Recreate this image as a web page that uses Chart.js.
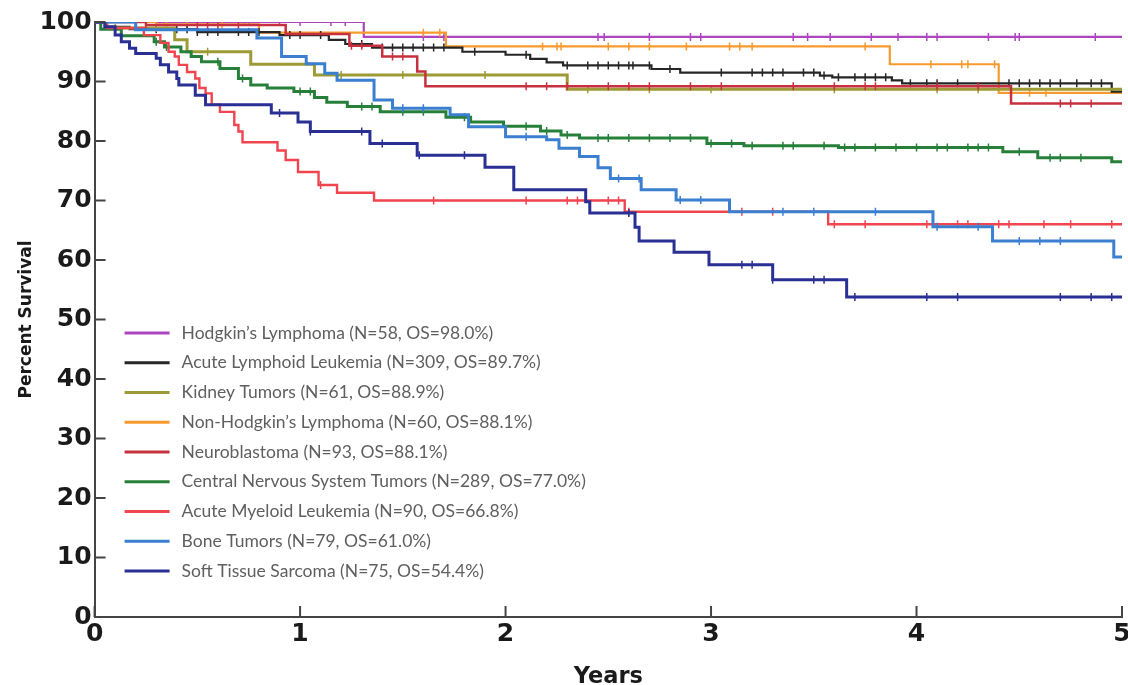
<!DOCTYPE html>
<html>
<head>
<meta charset="utf-8">
<title>Survival by diagnosis</title>
<script src="https://cdn.jsdelivr.net/npm/chart.js@4.4.1/dist/chart.umd.min.js"></script>
<style>
  html, body { margin: 0; padding: 0; background: #fff; }
  #wrap { position: relative; width: 1128px; height: 685px; }
</style>
</head>
<body>
<div id="wrap"><canvas id="kmChart"></canvas></div>
<script>
/* Kaplan-Meier curves, 5 year overall survival by diagnosis
------------------------------------------------------------ */

// series: event times (years) and survival (%) after each step
var hodgkinT = [0, 1.31, 5];
var hodgkinS = [100, 97.5, 97.5];
var allT = [0, 0.05, 0.17, 0.5, 0.9, 1.14, 1.22, 1.35, 1.79, 2.0, 2.12, 2.2, 2.28, 2.71, 2.85, 3.53, 3.59, 3.88, 3.93, 4.95, 5];
var allS = [100, 99.2, 98.8, 98.3, 97.8, 97.0, 96.3, 95.7, 95.0, 94.5, 93.8, 93.2, 92.7, 92.1, 91.5, 91.0, 90.7, 90.2, 89.7, 88.3, 88.3];
var kidneyT = [0, 0.06, 0.39, 0.45, 0.76, 1.07, 2.30, 5];
var kidneyS = [100, 99.0, 97.0, 95.0, 92.9, 91.1, 88.7, 88.7];
var nhlT = [0, 0.3, 0.8, 1.71, 3.87, 4.40, 5];
var nhlS = [100, 99.6, 98.2, 95.9, 92.9, 88.1, 88.1];
var neuroT = [0, 0.25, 0.93, 1.24, 1.40, 1.57, 1.61, 4.46, 5];
var neuroS = [100, 99.5, 98.0, 96.0, 94.2, 91.7, 89.2, 86.3, 86.3];
var cnsT = [0, 0.03, 0.13, 0.29, 0.34, 0.42, 0.47, 0.52, 0.61, 0.70, 0.76, 0.84, 0.97, 1.07, 1.13, 1.23, 1.39, 1.71, 1.83, 1.99, 2.17, 2.27, 2.36, 2.98, 3.16, 3.62, 4.42, 4.59, 4.95, 5];
var cnsS = [100, 98.8, 97.7, 96.7, 95.8, 95.0, 94.2, 93.3, 92.2, 90.5, 89.4, 88.9, 88.3, 87.3, 86.5, 85.8, 84.9, 84.0, 83.2, 82.5, 81.7, 81.0, 80.5, 79.6, 79.2, 78.9, 78.2, 77.2, 76.5, 76.5];
var amlT = [0, 0.06, 0.24, 0.32, 0.36, 0.39, 0.41, 0.45, 0.49, 0.51, 0.54, 0.57, 0.61, 0.68, 0.70, 0.72, 0.89, 0.93, 0.99, 1.09, 1.18, 1.36, 2.58, 3.57, 5];
var amlS = [100, 99.0, 97.8, 96.5, 95.0, 94.2, 92.8, 91.6, 90.5, 88.9, 88.0, 86.1, 84.9, 82.7, 81.6, 79.8, 78.4, 76.8, 74.8, 72.6, 71.3, 70.0, 68.1, 66.0, 66.0];
var boneT = [0, 0.2, 0.79, 0.91, 1.03, 1.12, 1.18, 1.36, 1.45, 1.73, 1.82, 2.0, 2.2, 2.26, 2.36, 2.45, 2.51, 2.66, 2.83, 3.09, 4.08, 4.37, 4.96, 5];
var boneS = [100, 98.7, 97.3, 94.2, 93.0, 91.4, 90.2, 86.9, 85.5, 84.4, 82.4, 80.7, 80.2, 78.8, 77.4, 75.5, 73.7, 71.8, 70.1, 68.1, 65.6, 63.2, 60.5, 60.5];
var softT = [0, 0.05, 0.10, 0.13, 0.17, 0.20, 0.30, 0.32, 0.36, 0.40, 0.41, 0.49, 0.54, 0.86, 0.99, 1.05, 1.34, 1.57, 1.90, 2.04, 2.39, 2.41, 2.63, 2.65, 2.82, 2.99, 3.30, 3.66, 5];
var softS = [100, 99.2, 97.8, 96.7, 95.6, 94.7, 93.9, 92.8, 91.6, 90.5, 89.4, 87.7, 86.1, 84.7, 83.2, 81.6, 79.6, 77.6, 75.6, 71.8, 69.8, 67.9, 65.5, 63.2, 61.3, 59.2, 56.7, 53.8, 53.8];

// censored observations (years)
var hodgkinC = [0.5, 0.73, 0.75, 0.9, 1.0, 1.15, 1.22, 1.6, 1.7, 2.45, 2.48, 2.7, 2.9, 2.95, 3.4, 3.47, 3.58, 3.78, 3.91, 4.05, 4.1, 4.35, 4.48, 4.5, 4.87];
var allC = [0.3, 0.4, 0.45, 0.5, 0.55, 0.6, 0.7, 0.75, 0.8, 0.95, 1.0, 1.1, 1.3, 1.4, 1.45, 1.5, 1.55, 1.6, 1.65, 1.7, 1.85, 2.1, 2.3, 2.4, 2.45, 2.5, 2.55, 2.6, 2.62, 2.7, 2.8, 3.05, 3.2, 3.25, 3.3, 3.35, 3.45, 3.5, 3.55, 3.62, 3.7, 3.75, 3.8, 3.85, 3.97, 4.05, 4.1, 4.2, 4.45, 4.5, 4.55, 4.6, 4.65, 4.7, 4.78, 4.85, 4.9];
var kidneyC = [0.1, 0.3, 0.55, 1.2, 1.5, 1.9, 2.4, 2.7, 3.0, 3.6, 4.1, 4.3];
var nhlC = [0.2, 0.35, 0.45, 0.62, 1.6, 1.68, 2.18, 2.25, 2.27, 2.5, 2.6, 2.7, 2.88, 3.09, 3.14, 3.2, 3.75, 4.07, 4.22, 4.25, 4.38, 4.55, 4.63];
var neuroC = [0.25, 0.5, 0.55, 0.6, 0.7, 1.25, 1.3, 1.45, 1.5, 2.1, 2.2, 2.3, 2.5, 2.6, 2.7, 2.9, 3.05, 3.4, 3.6, 3.75, 3.8, 4.1, 4.3, 4.7, 4.75, 4.85];
var cnsC = [0.3, 0.35, 0.6, 0.72, 1.0, 1.05, 1.3, 1.35, 1.5, 1.6, 1.8, 2.1, 2.2, 2.3, 2.45, 2.5, 2.6, 2.7, 2.8, 2.9, 3.0, 3.1, 3.2, 3.35, 3.4, 3.55, 3.65, 3.7, 3.8, 3.9, 4.0, 4.1, 4.15, 4.25, 4.3, 4.35, 4.5, 4.65, 4.7, 4.8];
var amlC = [1.1, 1.65, 2.1, 2.3, 2.35, 2.5, 2.55, 2.6, 3.15, 3.3, 3.6, 3.75, 4.05, 4.2, 4.25, 4.4, 4.45, 4.62, 4.75, 4.95];
var boneC = [1.5, 1.6, 2.1, 2.55, 2.65, 2.85, 2.95, 3.35, 3.5, 3.8, 4.1, 4.3, 4.5, 4.6, 4.7];
var softC = [0.9, 1.05, 1.3, 1.4, 1.58, 1.8, 2.6, 3.15, 3.2, 3.3, 3.5, 3.55, 3.7, 4.05, 4.2, 4.7, 4.85, 4.95];

// legend info
var names = ["Hodgkin\u2019s Lymphoma", "Acute Lymphoid Leukemia", "Kidney Tumors", "Non-Hodgkin\u2019s Lymphoma", "Neuroblastoma",
             "Central Nervous System Tumors", "Acute Myeloid Leukemia", "Bone Tumors", "Soft Tissue Sarcoma"];
var counts = [58, 309, 61, 60, 93, 289, 90, 79, 75];
var osRates = [98.0, 89.7, 88.9, 88.1, 88.1, 77.0, 66.8, 61.0, 54.4];

var xTicks = [0, 1, 2, 3, 4, 5];
var yTicks = [0, 10, 20, 30, 40, 50, 60, 70, 80, 90, 100];

var colors = ["#ad45c0", "#262626", "#9d9b35", "#f79a2e", "#c7313f", "#27803a", "#f0444f", "#3a7fd0", "#2a2f94"];
var widths = [2.2, 2.2, 3, 2.2, 2.5, 3, 2.4, 3, 3];

var times = [hodgkinT, allT, kidneyT, nhlT, neuroT, cnsT, amlT, boneT, softT];
var surv = [hodgkinS, allS, kidneyS, nhlS, neuroS, cnsS, amlS, boneS, softS];
var censor = [hodgkinC, allC, kidneyC, nhlC, neuroC, cnsC, amlC, boneC, softC];

function stepValue(t, s, at) {
  var v = s[0];
  for (var i = 0; i < t.length; i++) { if (t[i] <= at) v = s[i]; }
  return v;
}

var datasets = [];
// draw order: back to front
var order = [8, 7, 6, 5, 4, 2, 1, 3, 0];
order.forEach(function (k) {
  datasets.push({
    label: names[k],
    data: times[k].map(function (t, i) { return { x: t, y: surv[k][i] }; }),
    borderColor: colors[k],
    borderWidth: widths[k],
    stepped: 'before',
    pointRadius: 0,
    fill: false
  });
  datasets.push({
    label: names[k] + ' censored',
    data: censor[k].map(function (c) { return { x: c, y: stepValue(times[k], surv[k], c) }; }),
    showLine: false,
    pointStyle: 'line',
    rotation: 90,
    pointRadius: 4,
    pointBorderWidth: 1.5,
    borderColor: colors[k],
    pointBorderColor: colors[k],
    pointHoverRadius: 0
  });
});

var tickFont = { family: "'DejaVu Sans', sans-serif", size: 25, weight: 'bold' };

// tick marks drawn inward from each axis
var insideTicks = {
  id: 'insideTicks',
  afterDraw: function (chart) {
    var ctx = chart.ctx, a = chart.chartArea;
    ctx.save();
    ctx.strokeStyle = '#444';
    ctx.lineWidth = 2;
    chart.scales.y.ticks.forEach(function (tk) {
      var py = chart.scales.y.getPixelForValue(tk.value);
      ctx.beginPath(); ctx.moveTo(a.left, py); ctx.lineTo(a.left + 11, py); ctx.stroke();
    });
    chart.scales.x.ticks.forEach(function (tk) {
      var px = chart.scales.x.getPixelForValue(tk.value);
      ctx.beginPath(); ctx.moveTo(px, a.bottom); ctx.lineTo(px, a.bottom - 11); ctx.stroke();
    });
    ctx.restore();
  }
};

// legend inside the plot
var kmLegend = {
  id: 'kmLegend',
  afterDraw: function (chart) {
    var ctx = chart.ctx, a = chart.chartArea;
    ctx.save();
    ctx.font = "17.5px Lato, 'Open Sans', sans-serif";
    ctx.textBaseline = 'middle';
    names.forEach(function (n, i) {
      var y = a.top + 311 + i * 29.75;
      ctx.strokeStyle = colors[i];
      ctx.lineWidth = 3;
      ctx.beginPath(); ctx.moveTo(a.left + 30, y); ctx.lineTo(a.left + 75, y); ctx.stroke();
      ctx.fillStyle = '#5f5f5f';
      ctx.fillText(n + ' (N=' + counts[i] + ', OS=' + osRates[i].toFixed(1) + '%)', a.left + 87, y);
    });
    ctx.restore();
  }
};

var ctx1 = document.getElementById('kmChart');
var kmChart = new Chart(ctx1, {
  type: 'line',
  data: { datasets: datasets },
  options: {
    responsive: true,
    maintainAspectRatio: false,
    animation: false,
    layout: { padding: { top: 22, left: 12, right: 6, bottom: -6 } },
    plugins: {
      legend: { display: false },
      tooltip: { enabled: false }
    },
    scales: {
      x: {
        type: 'linear',
        min: 0,
        max: 5,
        afterBuildTicks: function (axis) { axis.ticks = xTicks.map(function (v) { return { value: v }; }); },
        // let the last year label run off the right edge, as in the scan
        afterFit: function (axis) { axis.paddingRight = 0; },
        ticks: { font: tickFont, color: '#1a1a1a', padding: 2, maxRotation: 0 },
        grid: { display: true, drawOnChartArea: false, drawTicks: false },
        border: { display: true, color: '#444', width: 2 },
        title: { display: true, text: 'Years', color: '#1a1a1a',
                 font: { family: "'DejaVu Sans', sans-serif", size: 22.5, weight: 'bold' }, padding: { top: 13, bottom: 0 } }
      },
      y: {
        min: 0,
        max: 100,
        afterBuildTicks: function (axis) { axis.ticks = yTicks.map(function (v) { return { value: v }; }); },
        ticks: { font: tickFont, color: '#1a1a1a', padding: 3 },
        grid: { display: true, drawOnChartArea: false, drawTicks: false },
        border: { display: true, color: '#444', width: 2 },
        title: { display: true, text: 'Percent Survival', color: '#1a1a1a',
                 font: { family: "'DejaVu Sans', sans-serif", size: 17, weight: 'bold' }, padding: { top: 4, bottom: 0 } }
      }
    }
  },
  plugins: [insideTicks, kmLegend]
});
</script>
</body>
</html>
